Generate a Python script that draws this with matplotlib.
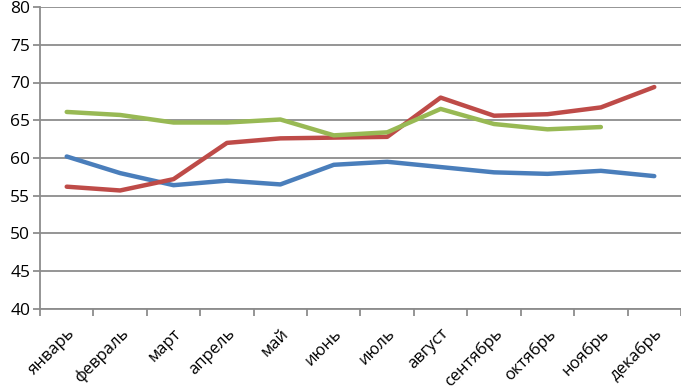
import numpy as np
import matplotlib.pyplot as plt
from matplotlib.ticker import FixedLocator

months = ["январь", "февраль", "март", "апрель", "май", "июнь",
          "июль", "август", "сентябрь", "октябрь", "ноябрь", "декабрь"]

blue = [60.2, 58.0, 56.4, 57.0, 56.5, 59.1, 59.5, 58.8, 58.1, 57.9, 58.3, 57.6]
red = [56.2, 55.7, 57.2, 62.0, 62.6, 62.7, 62.8, 68.0, 65.6, 65.8, 66.7, 69.4]
green = [66.1, 65.7, 64.7, 64.7, 65.1, 63.0, 63.4, 66.5, 64.5, 63.8, 64.1]

plt.rcParams['font.family'] = ['Open Sans', 'DejaVu Sans']

fig = plt.figure(figsize=(6.81, 3.91), dpi=100)
ax = fig.add_axes([40 / 681, 1 - 309 / 391, 1 - 40 / 681, 302 / 391])

x = np.arange(len(months))
ax.plot(x, blue, color='#4a7ebb', lw=3.2, solid_capstyle='round', zorder=3)
ax.plot(x, red, color='#be4b48', lw=3.2, solid_capstyle='round', zorder=3)
ax.plot(x[:len(green)], green, color='#98b954', lw=3.2, solid_capstyle='round', zorder=3)

ax.set_xlim(-0.5, len(months) - 0.5)
ax.set_ylim(40, 80)
ax.set_yticks(range(40, 81, 5))
ax.yaxis.grid(True, color='#8c8c8c', lw=1.3)
ax.set_axisbelow(True)

ax.set_xticks(x)
ax.set_xticklabels(months, rotation=45, ha='right', rotation_mode='anchor', fontsize=12)
ax.xaxis.set_minor_locator(FixedLocator(np.arange(-0.5, len(months), 1)))
ax.tick_params(axis='x', which='major', length=0, pad=12)
ax.tick_params(axis='x', which='minor', length=5, color='#8c8c8c', width=1.3)
ax.tick_params(axis='y', length=5, color='#8c8c8c', width=1.3, labelsize=12.5, pad=2)

for s in ['top', 'right']:
    ax.spines[s].set_visible(False)
for s in ['left', 'bottom']:
    ax.spines[s].set_color('#8c8c8c')
    ax.spines[s].set_linewidth(1.3)

fig.savefig("out.png", dpi=100)
